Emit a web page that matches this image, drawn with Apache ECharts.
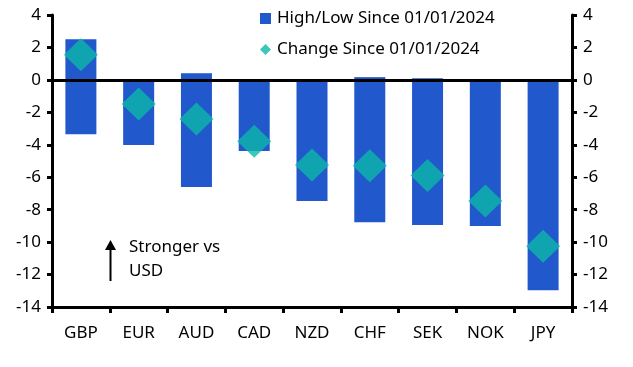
<!DOCTYPE html>
<html><head><meta charset="utf-8">
<script src="https://cdn.jsdelivr.net/npm/echarts@6/dist/echarts.min.js"></script>
<style>html,body{margin:0;padding:0;background:#fff}#c{width:633px;height:367px}</style>
</head><body><div id="c"></div>
<script>
const categories = ['GBP','EUR','AUD','CAD','NZD','CHF','SEK','NOK','JPY'];
const highValues = [2.5, 0, 0.41, 0, 0, 0.17, 0.1, 0, 0];
const lowValues = [-3.35, -4.01, -6.6, -4.38, -7.47, -8.78, -8.95, -9.0, -12.96];
const changeValues = [1.55, -1.48, -2.41, -3.79, -5.25, -5.29, -5.9, -7.47, -10.25];
const yTicks = [4, 2, 0, -2, -4, -6, -8, -10, -12, -14];

const FONT = 'Noto Sans';
const FS = 17;
const barName = 'High/Low Since 01/01/2024';
const chgName = 'Change Since 01/01/2024';
const BLUE = '#2158cc';
const TEAL = '#0cb8a9';

const chart = echarts.init(document.getElementById('c'), null, {renderer: 'canvas'});
const yAxisCommon = {
  type: 'value', min: yTicks[yTicks.length-1], max: yTicks[0], interval: 2,
  axisLine: {show: true, lineStyle: {color: '#000', width: 3}},
  axisTick: {show: true, length: 5, lineStyle: {color: '#000', width: 3}},
  splitLine: {show: false},
  axisLabel: {color: '#000', fontFamily: FONT, fontSize: FS, margin: 11}
};
chart.setOption({
  animation: false,
  textStyle: {fontFamily: FONT},
  grid: {left: 52, right: 61, top: 15, bottom: 60},
  legend: {
    orient: 'vertical', left: 255, top: 5, itemGap: 14,
    itemWidth: 11, itemHeight: 11,
    textStyle: {fontFamily: FONT, fontSize: FS, color: '#000', padding: [0,0,0,1]},
    data: [{name: barName, icon: 'rect'}, {name: chgName, icon: 'diamond'}]
  },
  xAxis: {
    type: 'category', data: categories,
    axisLine: {onZero: false, lineStyle: {color: '#000', width: 3}},
    axisTick: {show: true, length: 6, alignWithLabel: false, lineStyle: {color: '#000', width: 3}},
    axisLabel: {color: '#000', fontFamily: FONT, fontSize: FS, margin: 18}
  },
  yAxis: [
    Object.assign({}, yAxisCommon, {position: 'left'}),
    Object.assign({}, yAxisCommon, {position: 'right'})
  ],
  series: [
    {name: barName, type: 'bar', data: highValues, barWidth: 31, barGap: '-100%',
     itemStyle: {color: BLUE}, z: 2},
    {name: barName, type: 'bar', data: lowValues, barWidth: 31, barGap: '-100%',
     itemStyle: {color: BLUE}, z: 2,
     markLine: {silent: true, symbol: 'none', label: {show: false},
       lineStyle: {color: '#000', width: 3, type: 'solid'}, data: [{yAxis: 0}], z: 3}},
    {name: chgName, type: 'scatter', data: changeValues, symbol: 'diamond', symbolSize: [34, 33],
     itemStyle: {color: TEAL}, z: 5}
  ],
  graphic: [
    {type: 'line', shape: {x1: 110.5, y1: 281, x2: 110.5, y2: 248}, style: {stroke: '#000', lineWidth: 2}},
    {type: 'polygon', shape: {points: [[110.5, 240], [105, 250], [116, 250]]}, style: {fill: '#000'}},
    {type: 'text', left: 129, top: 235, style: {text: 'Stronger vs\nUSD', font: FS + 'px "' + FONT + '"', fill: '#000', lineHeight: 24}}
  ]
});
</script></body></html>
